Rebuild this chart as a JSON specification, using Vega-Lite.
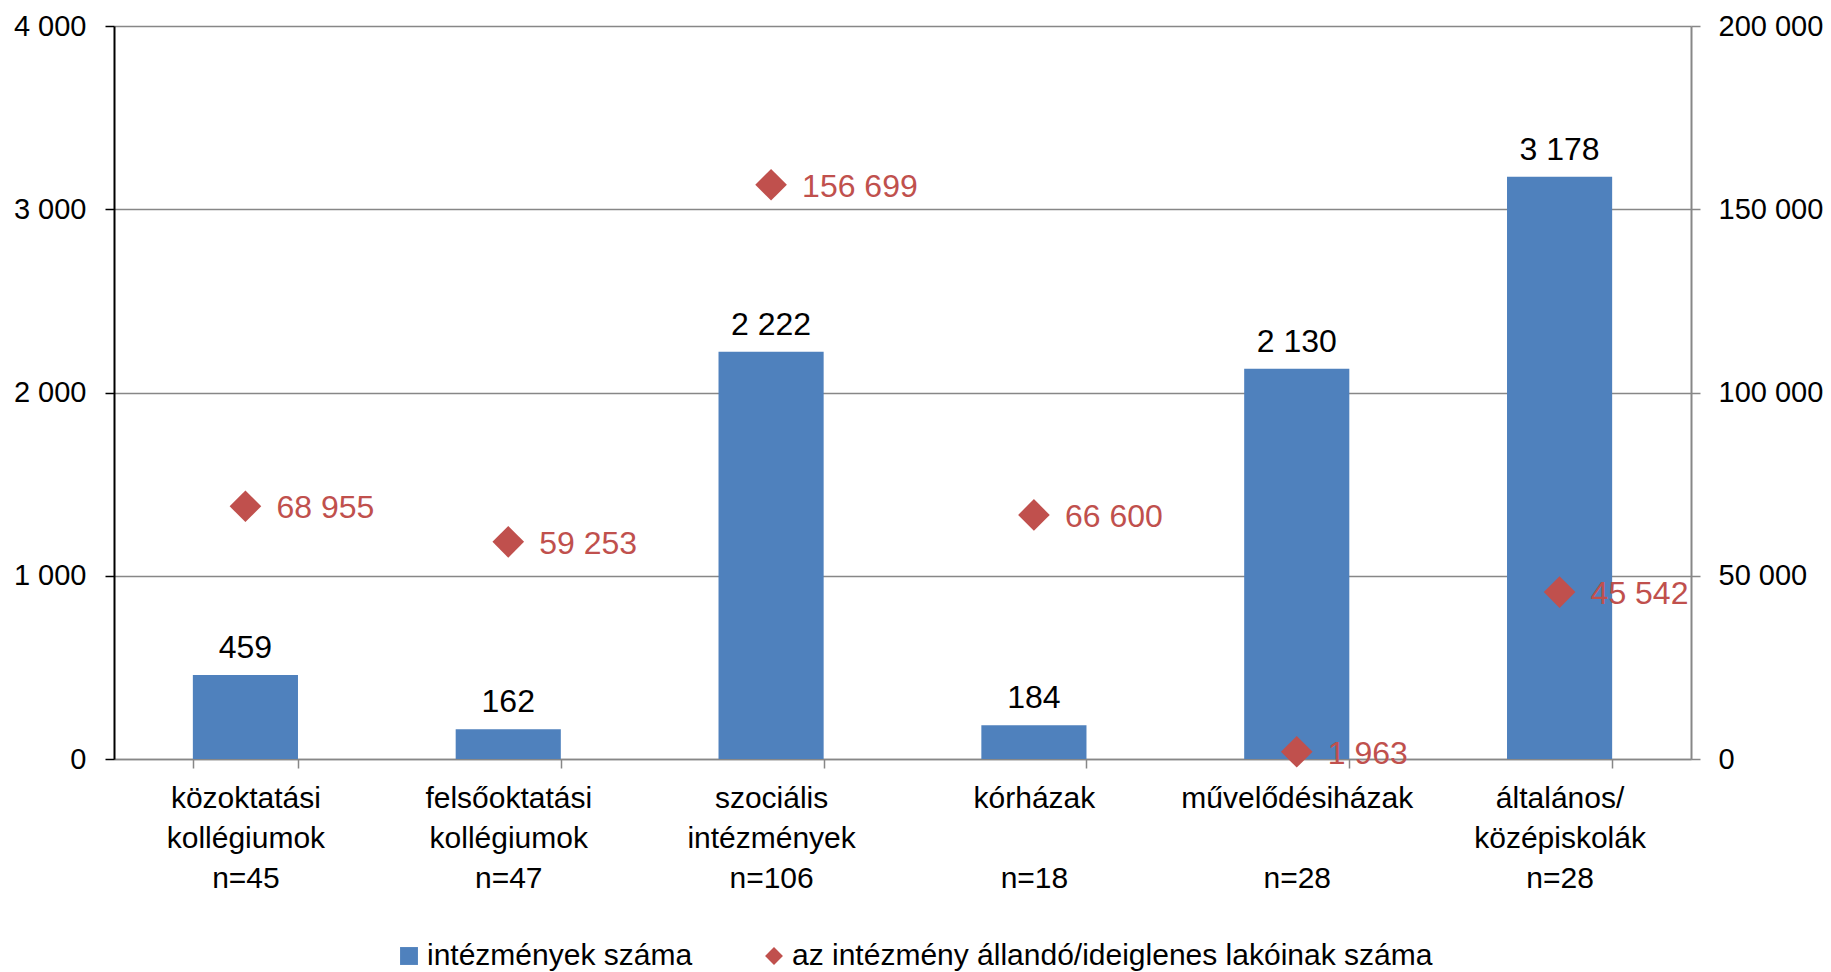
{
  "$schema": "https://vega.github.io/schema/vega-lite/v6.json",
  "autosize": {"type": "none"},
  "width": 1577,
  "height": 733,
  "padding": {"left": 114, "top": 26, "right": 140, "bottom": 213},
  "background": "white",
  "config": {
    "view": {"stroke": null},
    "font": "Liberation Sans",
    "locale": {"number": {"decimal": ",", "thousands": " ", "grouping": [3], "currency": ["", ""]}}
  },
  "data": {
    "values": [
      {"kat": "közoktatási|kollégiumok|n=45", "series": "intézmények száma", "value": 459},
      {"kat": "felsőoktatási|kollégiumok|n=47", "series": "intézmények száma", "value": 162},
      {"kat": "szociális|intézmények|n=106", "series": "intézmények száma", "value": 2222},
      {"kat": "kórházak|\u200b|n=18", "series": "intézmények száma", "value": 184},
      {"kat": "művelődésiházak|\u200b|n=28", "series": "intézmények száma", "value": 2130},
      {"kat": "általános/|középiskolák|n=28", "series": "intézmények száma", "value": 3178},
      {"kat": "közoktatási|kollégiumok|n=45", "series": "az intézmény állandó/ideiglenes lakóinak száma", "value": 68955},
      {"kat": "felsőoktatási|kollégiumok|n=47", "series": "az intézmény állandó/ideiglenes lakóinak száma", "value": 59253},
      {"kat": "szociális|intézmények|n=106", "series": "az intézmény állandó/ideiglenes lakóinak száma", "value": 156699},
      {"kat": "kórházak|\u200b|n=18", "series": "az intézmény állandó/ideiglenes lakóinak száma", "value": 66600},
      {"kat": "művelődésiházak|\u200b|n=28", "series": "az intézmény állandó/ideiglenes lakóinak száma", "value": 1963},
      {"kat": "általános/|középiskolák|n=28", "series": "az intézmény állandó/ideiglenes lakóinak száma", "value": 45542}
    ]
  },
  "encoding": {
    "x": {
      "field": "kat",
      "type": "nominal",
      "sort": null,
      "scale": {"paddingInner": 0.6, "paddingOuter": 0.3},
      "axis": {
        "title": null,
        "labelAngle": 0,
        "labelExpr": "split(datum.label, '|')",
        "labelFontSize": 30,
        "labelColor": "black",
        "labelLineHeight": 40,
        "labelPadding": 15,
        "labelLimit": 400,
        "tickBand": "extent",
        "tickSize": 9,
        "tickColor": "#878787",
        "tickWidth": 1.5,
        "domainColor": "#878787",
        "domainWidth": 1.5,
        "grid": false
      }
    }
  },
  "layer": [
    {
      "transform": [{"filter": "datum.series === 'intézmények száma'"}],
      "encoding": {
        "y": {
          "field": "value",
          "type": "quantitative",
          "scale": {"domain": [0, 4000], "nice": false},
          "axis": {
            "title": null,
            "orient": "left",
            "values": [0, 1000, 2000, 3000, 4000],
            "format": ",.0f",
            "labelFontSize": 29,
            "labelColor": "black",
            "labelPadding": 19,
            "tickSize": 9,
            "tickColor": "black",
            "tickWidth": 1.5,
            "domainColor": "black",
            "domainWidth": 2,
            "grid": true,
            "gridColor": "#878787",
            "gridWidth": 1.3
          }
        }
      },
      "layer": [
        {
          "mark": {"type": "bar", "color": "#4F81BD"},
          "encoding": {
            "color": {
              "field": "series",
              "type": "nominal",
              "scale": {"domain": ["intézmények száma", "az intézmény állandó/ideiglenes lakóinak száma"], "range": ["#4F81BD", "#C0504D"]},
              "legend": {"title": null, "orient": "none", "legendX": 280, "legendY": 915, "direction": "horizontal", "labelFontSize": 30, "labelColor": "black", "symbolSize": 320, "columnPadding": 66, "labelOffset": 3, "padding": 0, "labelLimit": 800, "symbolStrokeWidth": 0}
            }
          }
        },
        {
          "mark": {"type": "text", "baseline": "alphabetic", "align": "center", "dy": -17, "fontSize": 32, "color": "black"},
          "encoding": {"text": {"field": "value", "type": "quantitative", "format": ",.0f"}}
        }
      ]
    },
    {
      "transform": [{"filter": "datum.series !== 'intézmények száma'"}],
      "encoding": {
        "y": {
          "field": "value",
          "type": "quantitative",
          "scale": {"domain": [0, 200000], "nice": false},
          "axis": {
            "title": null,
            "orient": "right",
            "values": [0, 50000, 100000, 150000, 200000],
            "format": ",.0f",
            "labelFontSize": 29,
            "labelColor": "black",
            "labelPadding": 18,
            "tickSize": 9,
            "tickColor": "#878787",
            "tickWidth": 1.5,
            "domainColor": "#878787",
            "domainWidth": 2,
            "grid": false
          }
        }
      },
      "layer": [
        {
          "mark": {"type": "point", "filled": true, "size": 1000, "opacity": 1, "strokeWidth": 0},
          "encoding": {
            "color": {
              "field": "series",
              "type": "nominal",
              "scale": {"domain": ["intézmények száma", "az intézmény állandó/ideiglenes lakóinak száma"], "range": ["#4F81BD", "#C0504D"]},
              "legend": {"title": null, "orient": "none", "legendX": 280, "legendY": 915, "direction": "horizontal", "labelFontSize": 30, "labelColor": "black", "symbolSize": 320, "columnPadding": 66, "labelOffset": 3, "padding": 0, "labelLimit": 800, "symbolStrokeWidth": 0}
            },
            "shape": {
              "field": "series",
              "type": "nominal",
              "scale": {"domain": ["intézmények száma", "az intézmény állandó/ideiglenes lakóinak száma"], "range": ["square", "diamond"]},
              "legend": {"title": null, "orient": "none", "legendX": 280, "legendY": 915, "direction": "horizontal", "labelFontSize": 30, "labelColor": "black", "symbolSize": 320, "columnPadding": 66, "labelOffset": 3, "padding": 0, "labelLimit": 800, "symbolStrokeWidth": 0}
            }
          }
        },
        {
          "mark": {"type": "text", "baseline": "alphabetic", "align": "left", "dx": 31, "dy": 12, "fontSize": 32, "color": "#C0504D"},
          "encoding": {"text": {"field": "value", "type": "quantitative", "format": ",.0f"}}
        }
      ]
    }
  ],
  "resolve": {"scale": {"y": "independent"}}
}
